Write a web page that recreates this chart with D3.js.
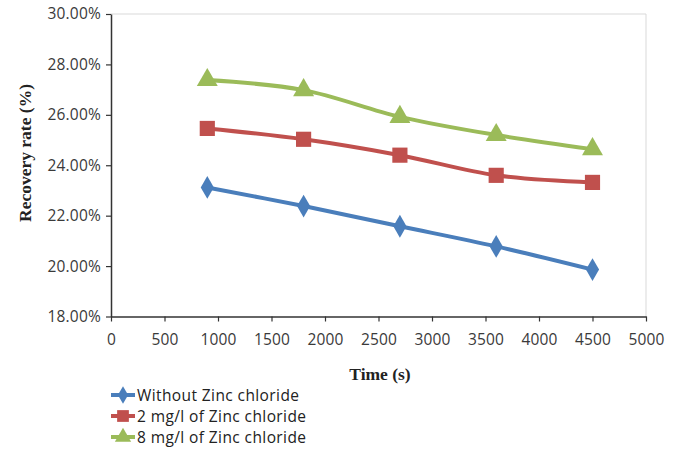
<!DOCTYPE html>
<html><head><meta charset="utf-8">
<script src="https://cdn.jsdelivr.net/npm/d3@7"></script>
<style>body{margin:0;background:#fff;}svg{display:block;}</style>
</head><body><svg id="c" width="682" height="453"></svg>
<script>
const times = [900, 1800, 2700, 3600, 4500];
const withoutZn = [23.12, 22.38, 21.58, 20.78, 19.86];
const zn2 = [25.46, 25.03, 24.40, 23.60, 23.32];
const zn8 = [27.38, 26.98, 25.92, 25.20, 24.64];
const seriesNames = ["Without Zinc chloride", "2 mg/l of Zinc chloride", "8 mg/l of Zinc chloride"];
const xTicks = [0,500,1000,1500,2000,2500,3000,3500,4000,4500,5000];
const yTicks = [18,20,22,24,26,28,30];

const series = [
  {name: seriesNames[0], values: withoutZn, color: "#4A7EBB", shape: "diamond"},
  {name: seriesNames[1], values: zn2, color: "#C0504D", shape: "square"},
  {name: seriesNames[2], values: zn8, color: "#9BBB59", shape: "triangle"}
];

const svg = d3.select("#c");
const L = 111, R = 646, T = 14, B = 316.5;
const x = d3.scaleLinear().domain([0,5000]).range([L,R]);
const y = d3.scaleLinear().domain([18,30]).range([B,T]);

svg.append("line").attr("x1",L).attr("x2",R).attr("y1",T).attr("y2",T).attr("stroke","#d9d9d9").attr("stroke-width",1);
svg.append("line").attr("x1",R).attr("x2",R).attr("y1",T).attr("y2",B).attr("stroke","#d9d9d9").attr("stroke-width",1);

const font = "'Open Sans', 'Liberation Sans', sans-serif";
const serif = "'Liberation Serif', 'Times New Roman', serif";
const yAxis = svg.append("g").attr("transform",`translate(${L},0)`)
  .call(d3.axisLeft(y).tickValues(yTicks).tickSize(5).tickSizeOuter(0).tickFormat(d=>d.toFixed(2)+"%"));
const xAxis = svg.append("g").attr("transform",`translate(0,${B})`)
  .call(d3.axisBottom(x).tickValues(xTicks).tickSize(5).tickSizeOuter(0).tickFormat(d3.format("d")));
[yAxis,xAxis].forEach(g=>{
  g.selectAll("path").attr("stroke","#333").attr("stroke-width",1.5);
  g.selectAll("line").attr("stroke","#333").attr("stroke-width",1.2);
  g.selectAll("text").attr("fill","#3a3a3a").style("font-family",font).style("font-size","15.5px").style("letter-spacing","0.2px");
});
yAxis.selectAll("text").attr("x",-10);
xAxis.selectAll("text").attr("y",17);

const line = d3.line().x((d,i)=>x(times[i])).y(d=>y(d)).curve(d3.curveCatmullRom.alpha(0.5));
const sym = {diamond: d3.symbolDiamond, square: d3.symbolSquare, triangle: d3.symbolTriangle};
const sz = {diamond: 150, square: 230, triangle: 190};

series.forEach(s=>{
  svg.append("path").attr("d",line(s.values)).attr("fill","none").attr("stroke",s.color).attr("stroke-width",4);
  svg.selectAll(null).data(s.values).enter().append("path")
    .attr("d",d3.symbol().type(sym[s.shape]).size(sz[s.shape]))
    .attr("transform",(d,i)=>`translate(${x(times[i])},${y(d)})`)
    .attr("fill",s.color);
});

svg.append("text").attr("transform",`translate(31,153) rotate(-90)`).attr("text-anchor","middle")
  .style("font-family",serif).style("font-weight","bold").style("font-size","17.5px").attr("fill","#222")
  .text("Recovery rate (%)");
svg.append("text").attr("x",380).attr("y",380).attr("text-anchor","middle")
  .style("font-family",serif).style("font-weight","bold").style("font-size","17.5px").attr("fill","#222")
  .text("Time (s)");

const leg = svg.append("g");
series.forEach((s,i)=>{
  const yy = 395 + i*21;
  leg.append("line").attr("x1",111).attr("x2",135).attr("y1",yy).attr("y2",yy).attr("stroke",s.color).attr("stroke-width",4);
  leg.append("path").attr("d",d3.symbol().type(sym[s.shape]).size(sz[s.shape]*0.6)).attr("transform",`translate(123,${yy})`).attr("fill",s.color);
  leg.append("text").attr("x",137).attr("y",yy+5.5).style("font-family",font).style("font-size","15.5px").style("letter-spacing","0.4px").attr("fill","#222").text(s.name);
});
</script></body></html>
